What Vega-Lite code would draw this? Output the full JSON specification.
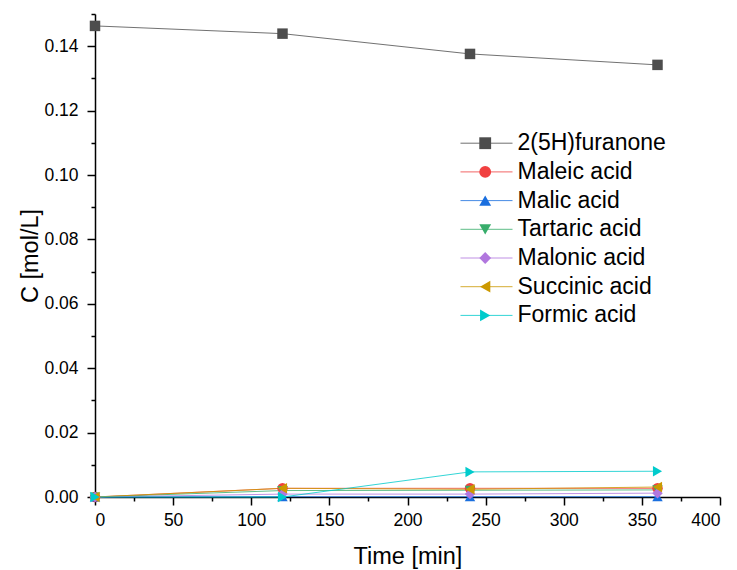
{
  "$schema": "https://vega.github.io/schema/vega-lite/v6.json",
  "width": 625,
  "height": 483,
  "autosize": {"type": "none"},
  "padding": {"left": 95, "top": 14, "right": 17, "bottom": 73},
  "background": "white",
  "config": {
    "view": {"stroke": null},
    "font": "Liberation Sans",
    "axis": {
      "grid": false,
      "domainColor": "black",
      "tickColor": "black",
      "labelColor": "black",
      "titleColor": "black",
      "labelFont": "Liberation Sans",
      "titleFont": "Liberation Sans",
      "titleFontWeight": "normal",
      "labelFontSize": 17.5,
      "titleFontSize": 23.5,
      "domainWidth": 1.5,
      "tickWidth": 1.5,
      "tickSize": 8
    },
    "legend": {"labelFont": "Liberation Sans", "labelColor": "black"}
  },
  "data": {
    "values": [
      {"series": "2(5H)furanone", "series2": "2(5H)furanone", "t": 0, "c": 0.1463},
      {"series": "2(5H)furanone", "series2": "2(5H)furanone", "t": 120, "c": 0.1439},
      {"series": "2(5H)furanone", "series2": "2(5H)furanone", "t": 240, "c": 0.1376},
      {"series": "2(5H)furanone", "series2": "2(5H)furanone", "t": 360, "c": 0.1342},
      {"series": "Maleic acid", "series2": "Maleic acid", "t": 0, "c": 0},
      {"series": "Maleic acid", "series2": "Maleic acid", "t": 120, "c": 0.0027},
      {"series": "Maleic acid", "series2": "Maleic acid", "t": 240, "c": 0.0027},
      {"series": "Maleic acid", "series2": "Maleic acid", "t": 360, "c": 0.0027},
      {"series": "Malic acid", "series2": "Malic acid", "t": 0, "c": 0},
      {"series": "Malic acid", "series2": "Malic acid", "t": 120, "c": 0.0001},
      {"series": "Malic acid", "series2": "Malic acid", "t": 240, "c": 0.0001},
      {"series": "Malic acid", "series2": "Malic acid", "t": 360, "c": 0.0001},
      {"series": "Tartaric acid", "series2": "Tartaric acid", "t": 0, "c": 0},
      {"series": "Tartaric acid", "series2": "Tartaric acid", "t": 120, "c": 0.0020},
      {"series": "Tartaric acid", "series2": "Tartaric acid", "t": 240, "c": 0.0021},
      {"series": "Tartaric acid", "series2": "Tartaric acid", "t": 360, "c": 0.0022},
      {"series": "Malonic acid", "series2": "Malonic acid", "t": 0, "c": 0},
      {"series": "Malonic acid", "series2": "Malonic acid", "t": 120, "c": 0.0009},
      {"series": "Malonic acid", "series2": "Malonic acid", "t": 240, "c": 0.0009},
      {"series": "Malonic acid", "series2": "Malonic acid", "t": 360, "c": 0.0012},
      {"series": "Succinic acid", "series2": "Succinic acid", "t": 0, "c": 0},
      {"series": "Succinic acid", "series2": "Succinic acid", "t": 120, "c": 0.0027},
      {"series": "Succinic acid", "series2": "Succinic acid", "t": 240, "c": 0.0024},
      {"series": "Succinic acid", "series2": "Succinic acid", "t": 360, "c": 0.0031},
      {"series": "Formic acid", "series2": "Formic acid", "t": 0, "c": 0},
      {"series": "Formic acid", "series2": "Formic acid", "t": 120, "c": 0.0000},
      {"series": "Formic acid", "series2": "Formic acid", "t": 240, "c": 0.0078},
      {"series": "Formic acid", "series2": "Formic acid", "t": 360, "c": 0.0080}
    ]
  },
  "layer": [
    {
      "mark": {"type": "line", "strokeWidth": 1, "strokeOpacity": 0.8},
      "encoding": {
        "x": {"field": "t", "type": "quantitative", "scale": {"domain": [0, 400], "nice": false, "zero": false},
          "axis": {"values": [0, 50, 100, 150, 200, 250, 300, 350, 400], "title": "Time [min]", "labelPadding": 6, "titlePadding": 16, "orient": "bottom"}},
        "y": {"field": "c", "type": "quantitative", "scale": {"domain": [0, 0.15], "nice": false, "zero": false},
          "axis": {"values": [0, 0.02, 0.04, 0.06, 0.08, 0.1, 0.12, 0.14], "format": ".2f", "title": "C [mol/L]", "labelPadding": 9, "titlePadding": 1, "orient": "left"}},
        "stroke": {"field": "series", "type": "nominal",
          "sort": ["2(5H)furanone", "Maleic acid", "Malic acid", "Tartaric acid", "Malonic acid", "Succinic acid", "Formic acid"],
          "scale": {"range": ["#4D4D4D", "#F14040", "#1A6FDF", "#37AD6B", "#B177DE", "#CC9900", "#00CBCC"]},
          "legend": {"orient": "none", "legendX": 380, "legendY": 117.7, "title": null, "padding": 0, "symbolType": "M-4.96,0H4.96", "symbolSize": 110, "symbolStrokeWidth": 1, "symbolOpacity": 0.8, "labelFontSize": 23, "labelOffset": 19.5, "rowPadding": 4.7, "labelLimit": 400}},
        "detail": {"field": "series"}
      }
    },
    {
      "mark": {"type": "point", "filled": true, "size": 110, "opacity": 1},
      "encoding": {
        "x": {"field": "t", "type": "quantitative", "axis": null},
        "y": {"field": "c", "type": "quantitative", "axis": null},
        "fill": {"field": "series2", "type": "nominal",
          "scale": {"domain": ["2(5H)furanone", "Maleic acid", "Malic acid", "Tartaric acid", "Malonic acid", "Succinic acid", "Formic acid"],
            "range": ["#4D4D4D", "#F14040", "#1A6FDF", "#37AD6B", "#B177DE", "#CC9900", "#00CBCC"]},
          "legend": {"orient": "none", "legendX": 378.7, "legendY": 117.7, "title": null, "padding": 0, "symbolSize": 140, "symbolStrokeWidth": 0, "symbolOpacity": 1, "labelFontSize": 23, "labelExpr": "''", "rowPadding": 4.7, "labelLimit": 400}},
        "shape": {"field": "series2", "type": "nominal",
          "scale": {"domain": ["2(5H)furanone", "Maleic acid", "Malic acid", "Tartaric acid", "Malonic acid", "Succinic acid", "Formic acid"],
            "range": ["square", "circle", "triangle-up", "triangle-down", "diamond", "triangle-left", "triangle-right"]},
          "legend": {"orient": "none", "legendX": 378.7, "legendY": 117.7, "title": null, "padding": 0, "symbolSize": 140, "symbolStrokeWidth": 0, "symbolOpacity": 1, "labelFontSize": 23, "labelExpr": "''", "rowPadding": 4.7, "labelLimit": 400}}
      }
    },
    {
      "mark": {"type": "point", "opacity": 0},
      "encoding": {
        "x": {"field": "t", "type": "quantitative",
          "axis": {"values": [25, 75, 125, 175, 225, 275, 325, 375], "labels": false, "domain": false, "tickSize": 4, "title": null, "orient": "bottom"}},
        "y": {"field": "c", "type": "quantitative",
          "axis": {"values": [0.01, 0.03, 0.05, 0.07, 0.09, 0.11, 0.13, 0.15], "labels": false, "domain": false, "tickSize": 4, "title": null, "orient": "left"}}
      }
    }
  ],
  "resolve": {"axis": {"x": "independent", "y": "independent"}}
}
